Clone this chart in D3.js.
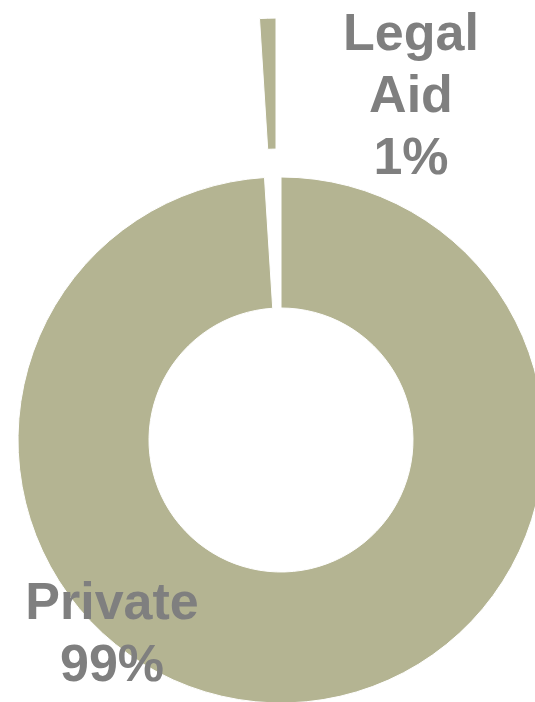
<!DOCTYPE html>
<html>
<head>
<meta charset="utf-8">
<script src="https://cdn.jsdelivr.net/npm/d3@7"></script>
<style>
  html, body { margin: 0; padding: 0; background: #fff; }
  svg { display: block; }
</style>
</head>
<body>
<svg id="chart" width="535" height="702"></svg>
<script>
// Share of cases by funding type (percent)
const categories = ["Private", "Legal Aid"];
const shares = [99, 1];
const labelLines = [["Private", "99%"], ["Legal", "Aid", "1%"]];

const width = 535, height = 702;
const cx = 281, cy = 440;
const outerR = 263, innerR = 132;
const explode = 159;          // Legal Aid slice is pulled out from the ring
const sliceColor = "#B4B492";
const textColor = "#7F7F7F";

const svg = d3.select("#chart");
const g = svg.append("g").attr("transform", `translate(${cx},${cy})`);

const pie = d3.pie().sort(null).value(d => d.value);
const arcs = pie(categories.map((c, i) => ({ name: c, value: shares[i] })));
const arc = d3.arc().innerRadius(innerR).outerRadius(outerR);

g.selectAll("path.slice")
  .data(arcs)
  .join("path")
  .attr("class", "slice")
  .attr("d", arc)
  .attr("fill", sliceColor)
  .attr("stroke", "#fff")
  .attr("stroke-width", 1)
  .attr("transform", d => {
    if (d.data.name !== "Legal Aid") return null;
    const mid = (d.startAngle + d.endAngle) / 2;
    return `translate(${Math.sin(mid) * explode},${-Math.cos(mid) * explode})`;
  });

// Labels (positions relative to the ring centre)
const labelPos = {
  "Private": { x: 112 - cx, y: 619 - cy },
  "Legal Aid": { x: 411 - cx, y: 50 - cy }
};
const lineStep = 62;

arcs.forEach((d, i) => {
  const p = labelPos[d.data.name];
  const t = g.append("text")
    .attr("x", p.x)
    .attr("y", p.y)
    .attr("text-anchor", "middle")
    .attr("fill", textColor)
    .style("font-family", "'Liberation Sans', Arial, sans-serif")
    .style("font-weight", "bold")
    .style("font-size", "52px");
  labelLines[i].forEach((line, k) => {
    t.append("tspan")
      .attr("x", p.x)
      .attr("y", p.y + k * lineStep)
      .text(line);
  });
});
</script>
</body>
</html>
